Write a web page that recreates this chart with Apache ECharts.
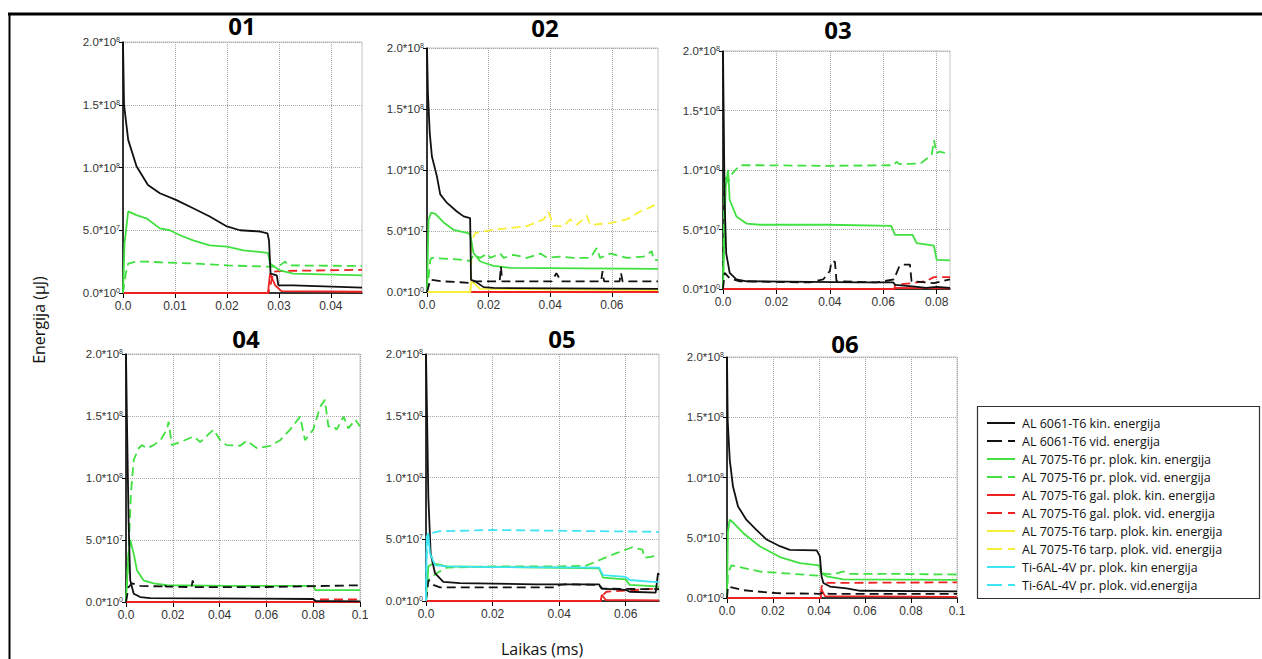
<!DOCTYPE html>
<html><head><meta charset="utf-8">
<script src="https://cdn.jsdelivr.net/npm/echarts@6/dist/echarts.min.js"></script>
<style>html,body{margin:0;padding:0;background:#fff}#c{width:1262px;height:659px}</style>
</head><body><div id="c"></div>
<script>
// ---------- names / ticks ----------
const legendNames = ['AL 6061-T6 kin. energija','AL 6061-T6 vid. energija','AL 7075-T6 pr. plok. kin. energija','AL 7075-T6 pr. plok. vid. energija','AL 7075-T6 gal. plok. kin. energija','AL 7075-T6 gal. plok. vid. energija','AL 7075-T6 tarp. plok. kin. energija','AL 7075-T6 tarp. plok. vid. energija','Ti-6AL-4V pr. plok. kin energija','Ti-6AL-4V pr. plok. vid.energija'];
const panelTitles = ['01','02','03','04','05','06'];
const yTickValues = [0, 5e7, 1e8, 1.5e8, 2e8];
const yTickMantissa = ['0.0','5.0','1.0','1.5','2.0'];
const yTickExponent = ['0','7','8','8','8'];
const xMax = [0.046, 0.075, 0.085, 0.1, 0.07, 0.1];
const xInterval = [0.01, 0.02, 0.02, 0.02, 0.02, 0.02];
const xTickValues = [[0,0.01,0.02,0.03,0.04],[0,0.02,0.04,0.06],[0,0.02,0.04,0.06,0.08],[0,0.02,0.04,0.06,0.08,0.1],[0,0.02,0.04,0.06],[0,0.02,0.04,0.06,0.08,0.1]];
const xTickLabels = [['0.0','0.01','0.02','0.03','0.04'],['0.0','0.02','0.04','0.06'],['0.0','0.02','0.04','0.06','0.08'],['0.0','0.02','0.04','0.06','0.08','0.1'],['0.0','0.02','0.04','0.06'],['0.0','0.02','0.04','0.06','0.08','0.1']];

// ---------- data: [time ms, energy µJ] ----------
// Panel 01
const p1_kin6061 = [[0,2.0e8],[0.0002,1.5e8],[0.001,1.22e8],[0.0026,1.01e8],[0.0048,8.6e7],[0.0071,7.95e7],[0.0103,7.4e7],[0.0135,6.75e7],[0.0167,6.1e7],[0.02,5.3e7],[0.0225,5.0e7],[0.0264,4.9e7],[0.0278,4.75e7],[0.0281,4.2e7],[0.0284,1.55e7],[0.0296,1.4e7],[0.0299,6e6],[0.0328,6e6],[0.046,4.3e6]];
const p1_kinPr = [[0,0],[0.0003,4.0e7],[0.001,6.5e7],[0.0026,6.2e7],[0.0045,5.95e7],[0.0071,5.15e7],[0.009,5.0e7],[0.011,4.6e7],[0.0135,4.2e7],[0.0167,3.8e7],[0.02,3.7e7],[0.0232,3.4e7],[0.0279,3.2e7],[0.0283,2.35e7],[0.0302,1.8e7],[0.0328,1.55e7],[0.046,1.4e7]];
const p1_vidPr = [[0,0],[0.0005,1.5e7],[0.001,2.35e7],[0.0026,2.5e7],[0.0045,2.5e7],[0.0071,2.45e7],[0.0135,2.35e7],[0.02,2.2e7],[0.0277,2.1e7],[0.029,2.1e7],[0.0302,2.2e7],[0.0312,2.5e7],[0.0318,2.2e7],[0.046,2.15e7]];
const p1_kinGal = [[0,0],[0.0279,0],[0.0283,1.55e7],[0.0293,6e6],[0.0305,1.5e6],[0.046,1.0e6]];
const p1_vidGal = [[0,0],[0.028,0],[0.029,1.7e7],[0.0302,1.75e7],[0.046,1.85e7]];
// Panel 02
const p2_kin6061 = [[0,2.0e8],[0.0003,1.63e8],[0.0009,1.3e8],[0.0016,1.11e8],[0.0032,9.5e7],[0.0043,8.0e7],[0.0065,7.3e7],[0.0097,6.6e7],[0.0119,6.2e7],[0.014,6.05e7],[0.0143,1.0e7],[0.0157,8.7e6],[0.0184,4e6],[0.0216,3.3e6],[0.075,2.5e6]];
const p2_vid6061 = [[0,0],[0.0011,1.0e7],[0.0054,8.7e6],[0.0108,8.0e6],[0.014,7.4e6],[0.0146,8.7e6],[0.0236,8.7e6],[0.024,2.1e7],[0.0244,8.7e6],[0.0405,8.7e6],[0.042,1.55e7],[0.0435,8.7e6],[0.0565,8.7e6],[0.057,1.7e7],[0.0575,8.7e6],[0.0625,8.7e6],[0.063,1.55e7],[0.0635,8.7e6],[0.075,8.7e6]];
const p2_kinPr = [[0,0],[0.0005,5.9e7],[0.0013,6.5e7],[0.0027,6.4e7],[0.0054,5.7e7],[0.0086,5.1e7],[0.013,4.85e7],[0.014,4.75e7],[0.0151,3.2e7],[0.0173,2.5e7],[0.0216,2.15e7],[0.027,1.97e7],[0.075,1.9e7]];
const p2_vidPr = [[0,0],[0.0011,2.65e7],[0.0016,2.8e7],[0.0108,2.65e7],[0.014,2.55e7],[0.0151,3.05e7],[0.0173,2.8e7],[0.0195,3.15e7],[0.0205,2.8e7],[0.0238,3.15e7],[0.0249,2.8e7],[0.028,3.05e7],[0.0324,2.8e7],[0.0368,3.15e7],[0.039,2.8e7],[0.0432,2.9e7],[0.0476,2.8e7],[0.053,2.8e7],[0.0551,3.6e7],[0.0562,2.8e7],[0.0595,3.15e7],[0.0649,2.8e7],[0.0703,2.9e7],[0.073,3.35e7],[0.0735,2.65e7],[0.075,2.6e7]];
const p2_kinGal = [[0,0],[0.075,0]];
const p2_kinTarp = [[0,0],[0.014,0],[0.0144,9e6],[0.0157,6e6],[0.0173,2.5e6],[0.075,1.5e6]];
const p2_vidTarp = [[0,0],[0.0141,0],[0.0146,4.3e7],[0.0157,4.85e7],[0.0216,5.1e7],[0.027,5.25e7],[0.0324,5.4e7],[0.0378,5.95e7],[0.0395,6.55e7],[0.0411,5.4e7],[0.0443,5.4e7],[0.0465,5.95e7],[0.0486,5.5e7],[0.0519,6.25e7],[0.053,5.5e7],[0.0595,5.65e7],[0.0649,5.95e7],[0.0692,6.6e7],[0.0708,6.75e7],[0.075,7.25e7]];
// Panel 03
const p3_kin6061 = [[0,2.0e8],[0.0006,7.5e7],[0.0012,3.0e7],[0.0025,1.35e7],[0.005,8e6],[0.0088,6.5e6],[0.051,5.5e6],[0.0638,5.5e6],[0.0644,3.5e6],[0.071,2.2e6],[0.076,1.0e6],[0.08,1.7e6],[0.085,1.0e6]];
const p3_vid6061 = [[0,0],[0.0006,1.35e7],[0.0025,9e6],[0.0063,6.5e6],[0.0325,5.5e6],[0.0375,8e6],[0.04,1.5e7],[0.0406,2.3e7],[0.0419,2.3e7],[0.0425,6.5e6],[0.0575,5.5e6],[0.064,8e6],[0.066,1.9e7],[0.0675,2.05e7],[0.07,2.05e7],[0.0706,6.5e6],[0.079,5e6],[0.085,8e6]];
const p3_kinPr = [[0,0],[0.001,8.6e7],[0.0019,1.0e8],[0.0025,7.5e7],[0.005,6.1e7],[0.0088,5.5e7],[0.0138,5.4e7],[0.039,5.4e7],[0.063,5.3e7],[0.0644,4.55e7],[0.071,4.55e7],[0.0725,3.85e7],[0.079,3.65e7],[0.08,2.45e7],[0.085,2.4e7]];
const p3_vidPr = [[0,0],[0.0006,9.4e7],[0.0019,9.0e7],[0.0031,9.6e7],[0.0063,1.04e8],[0.0138,1.04e8],[0.039,1.035e8],[0.064,1.04e8],[0.065,1.07e8],[0.066,1.05e8],[0.074,1.055e8],[0.076,1.09e8],[0.0781,1.125e8],[0.079,1.25e8],[0.08,1.14e8],[0.081,1.155e8],[0.085,1.135e8]];
const p3_kinGal = [[0,0],[0.064,0],[0.0644,1.0e6],[0.085,5e5]];
const p3_vidGal = [[0,0],[0.0642,0],[0.0644,3.5e6],[0.071,5e6],[0.076,6.5e6],[0.079,1.0e7],[0.085,1.0e7]];
// Panel 04
const p4_kin6061 = [[0,2.0e8],[0.0004,1.47e8],[0.0011,6.6e7],[0.0018,1.75e7],[0.0033,6.7e6],[0.0061,4e6],[0.0104,3.2e6],[0.057,2.7e6],[0.08,2.4e6],[0.081,8e5],[0.1,5e5]];
const p4_vid6061 = [[0,0],[0.0011,1.2e7],[0.0026,1.5e7],[0.006,1.3e7],[0.016,1.25e7],[0.0165,1.45e7],[0.017,1.25e7],[0.028,1.2e7],[0.0285,1.75e7],[0.029,1.2e7],[0.057,1.2e7],[0.086,1.3e7],[0.1,1.35e7]];
const p4_kinPr = [[0,0],[0.0009,3.4e7],[0.0018,5.0e7],[0.0033,3.9e7],[0.0047,2.55e7],[0.0075,1.75e7],[0.0118,1.5e7],[0.0175,1.35e7],[0.043,1.3e7],[0.08,1.3e7],[0.081,9.5e6],[0.1,9.5e6]];
const p4_vidPr = [[0,0],[0.0011,3.9e7],[0.0021,8.75e7],[0.0033,1.145e8],[0.0054,1.24e8],[0.0068,1.265e8],[0.009,1.24e8],[0.0118,1.265e8],[0.0147,1.305e8],[0.0175,1.39e8],[0.0182,1.455e8],[0.0196,1.265e8],[0.0232,1.29e8],[0.0289,1.335e8],[0.0317,1.29e8],[0.0374,1.39e8],[0.0403,1.305e8],[0.043,1.265e8],[0.0488,1.26e8],[0.0516,1.3e8],[0.056,1.24e8],[0.0616,1.26e8],[0.0659,1.305e8],[0.0701,1.39e8],[0.0744,1.495e8],[0.0765,1.305e8],[0.08,1.39e8],[0.083,1.575e8],[0.085,1.63e8],[0.0865,1.415e8],[0.0886,1.42e8],[0.09,1.39e8],[0.093,1.495e8],[0.095,1.4e8],[0.098,1.47e8],[0.1,1.415e8]];
const p4_kinGal = [[0,0],[0.1,0]];
const p4_vidGal = [[0,0],[0.081,0],[0.0812,2e6],[0.1,2e6]];
// Panel 05
const p5_kin6061 = [[0,2.0e8],[0.0003,1.52e8],[0.0007,8.45e7],[0.0014,3.85e7],[0.0027,2.25e7],[0.0052,1.55e7],[0.0102,1.45e7],[0.033,1.35e7],[0.052,1.35e7],[0.0527,1.0e7],[0.06,9e6],[0.0612,7.5e6],[0.069,6.8e6],[0.0697,2.25e7],[0.07,2.1e7]];
const p5_vid6061 = [[0,0],[0.0007,1.7e7],[0.0022,1.3e7],[0.0042,1.1e7],[0.039,1.1e7],[0.04,1.3e7],[0.042,1.35e7],[0.052,1.3e7],[0.053,1.0e7],[0.07,9.5e6]];
const p5_kinPr = [[0,0],[0.0007,2.8e7],[0.0022,3.05e7],[0.0062,2.8e7],[0.052,2.65e7],[0.0532,1.9e7],[0.06,1.75e7],[0.0612,1.3e7],[0.068,1.2e7],[0.07,1.15e7]];
const p5_vidPr = [[0,0],[0.0007,1.7e7],[0.0032,2.25e7],[0.0062,2.7e7],[0.02,2.8e7],[0.04,2.8e7],[0.048,2.85e7],[0.052,3.3e7],[0.057,3.85e7],[0.062,4.35e7],[0.065,4.15e7],[0.0657,3.5e7],[0.068,3.6e7],[0.07,3.85e7]];
const p5_kinGal = [[0,0],[0.0525,0],[0.0528,5e6],[0.054,8e5],[0.07,5e5]];
const p5_vidGal = [[0,0],[0.0525,0],[0.0527,3.5e6],[0.0542,7.5e6],[0.06,8.5e6],[0.07,1.0e7]];
const p5_kinTi = [[0,0],[0.0002,5.2e7],[0.0007,5.5e7],[0.0012,3.85e7],[0.0027,2.9e7],[0.0062,2.8e7],[0.02,2.75e7],[0.052,2.7e7],[0.0532,2.1e7],[0.06,1.95e7],[0.0612,1.7e7],[0.068,1.55e7],[0.07,1.55e7]];
const p5_vidTi = [[0,0],[0.0002,3.85e7],[0.0007,5.2e7],[0.0017,5.5e7],[0.0042,5.65e7],[0.02,5.75e7],[0.07,5.6e7]];
// Panel 06
const p6_kin6061 = [[0,2.0e8],[0.0003,1.475e8],[0.0012,1.145e8],[0.0026,9.25e7],[0.0048,7.6e7],[0.0084,6.5e7],[0.0128,5.65e7],[0.0172,4.85e7],[0.023,4.3e7],[0.0273,4.0e7],[0.039,3.95e7],[0.0404,3.45e7],[0.0411,1.8e7],[0.0419,1.25e7],[0.0433,1.1e7],[0.0448,9.5e6],[0.052,8e6],[0.058,6e6],[0.1,5.5e6]];
const p6_vid6061 = [[0,0],[0.0004,9.5e6],[0.007,6.5e6],[0.0215,4e6],[0.04,3.5e6],[0.042,4.5e6],[0.0445,3.5e6],[0.1,3.5e6]];
const p6_kinPr = [[0,0],[0.0004,5.5e7],[0.0012,6.5e7],[0.003,6.2e7],[0.007,5.4e7],[0.0142,4.3e7],[0.023,3.4e7],[0.0317,2.9e7],[0.04,2.7e7],[0.0411,2.05e7],[0.0433,1.8e7],[0.0506,1.55e7],[0.1,1.5e7]];
const p6_vidPr = [[0,0],[0.0004,2.05e7],[0.0019,2.7e7],[0.007,2.5e7],[0.0142,2.2e7],[0.0288,2.0e7],[0.04,1.85e7],[0.0411,2.05e7],[0.046,1.95e7],[0.0506,2.2e7],[0.0535,2.0e7],[0.0724,2.0e7],[0.1,1.95e7]];
const p6_kinGal = [[0,0],[0.0408,0],[0.0411,7e6],[0.0426,1.5e6],[0.1,1e6]];
const p6_vidGal = [[0,0],[0.0409,0],[0.0411,9.5e6],[0.0426,1.25e7],[0.1,1.3e7]];

// which legend entry each panel curve belongs to
const panelCurves = [
  [[4,p1_kinGal],[5,p1_vidGal],[3,p1_vidPr],[2,p1_kinPr],[0,p1_kin6061]],
  [[4,p2_kinGal],[6,p2_kinTarp],[7,p2_vidTarp],[3,p2_vidPr],[2,p2_kinPr],[1,p2_vid6061],[0,p2_kin6061]],
  [[4,p3_kinGal],[5,p3_vidGal],[3,p3_vidPr],[2,p3_kinPr],[1,p3_vid6061],[0,p3_kin6061]],
  [[4,p4_kinGal],[5,p4_vidGal],[3,p4_vidPr],[2,p4_kinPr],[1,p4_vid6061],[0,p4_kin6061]],
  [[4,p5_kinGal],[5,p5_vidGal],[3,p5_vidPr],[2,p5_kinPr],[1,p5_vid6061],[0,p5_kin6061],[9,p5_vidTi],[8,p5_kinTi]],
  [[4,p6_kinGal],[5,p6_vidGal],[3,p6_vidPr],[2,p6_kinPr],[1,p6_vid6061],[0,p6_kin6061]]
];

// ---------- styling ----------
const seriesColor = ['#111111','#111111','#3fe03f','#3fe03f','#ee2222','#ee2222','#f8ef3a','#f8ef3a','#3de4f2','#3de4f2'];
const seriesDashed = [false,true,false,true,false,true,false,true,false,true];
const grids = [
  {left:123, top:42, width:239, height:251},
  {left:427, top:48, width:231, height:244},
  {left:723, top:51, width:227, height:238},
  {left:126, top:354, width:234, height:248},
  {left:426, top:354, width:233, height:247},
  {left:727, top:357, width:230, height:241}
];
const tickFont = 'Liberation Sans, Arial, sans-serif';
const textFont = '"Open Sans", "Noto Sans", sans-serif';
const titlePos = [[242,25],[545,27],[838,29],[246,338],[562,338],[845,343]];

const graphics = [
  {type:'line', shape:{x1:8, y1:14, x2:1262, y2:14}, style:{stroke:'#000', lineWidth:3}},
  {type:'line', shape:{x1:9.5, y1:14, x2:9.5, y2:659}, style:{stroke:'#000', lineWidth:2}},
  {type:'rect', shape:{x:977.5, y:406.5, width:282, height:192}, style:{fill:'none', stroke:'#333', lineWidth:1.2}},
  {type:'text', x:39, y:320, rotation:Math.PI/2, style:{text:'Energija (µJ)', font:'16px '+textFont, fill:'#111', textAlign:'center', textVerticalAlign:'middle'}},
  {type:'text', x:542, y:649, style:{text:'Laikas (ms)', font:'16px '+textFont, fill:'#111', textAlign:'center', textVerticalAlign:'middle'}}
];
panelTitles.forEach((t,i)=>graphics.push({type:'text', x:titlePos[i][0], y:titlePos[i][1],
  style:{text:t, font:'bold 24px '+textFont, fill:'#000', textAlign:'center', textVerticalAlign:'middle'}}));
legendNames.forEach((n,i)=>{
  const y = 423 + 18*i;
  graphics.push({type:'line', shape:{x1:987, y1:y, x2:1015, y2:y},
    style:{stroke:seriesColor[i], lineWidth:2, lineDash: seriesDashed[i] ? [15,6] : null}});
  graphics.push({type:'text', x:1022, y:y, style:{text:n, font:'12.5px '+textFont, fill:'#111', textAlign:'left', textVerticalAlign:'middle'}});
});

const option = {
  animation: false,
  backgroundColor: '#fff',
  grid: grids.map(g => Object.assign({show:true, borderColor:'#c4c4c4', borderWidth:1, backgroundColor:'transparent'}, g)),
  xAxis: grids.map((g,i) => ({
    type:'value', gridIndex:i, min:0, max:xMax[i], interval:xInterval[i],
    axisLine:{show:true, onZero:false, lineStyle:{color:'#000', width:1.5}},
    axisTick:{show:true, length:5, lineStyle:{color:'#000'}, customValues:xTickValues[i]},
    axisLabel:{show:true, customValues:xTickValues[i], margin:7, fontSize:12, color:'#333', fontFamily:tickFont,
      formatter:(v)=>{const k = xTickValues[i].findIndex(t=>Math.abs(t-v)<1e-9); return k<0?'':xTickLabels[i][k];}},
    splitLine:{show:true, lineStyle:{color:'#a8a8a8', type:'dotted', width:1}}
  })),
  yAxis: grids.map((g,i) => ({
    type:'value', gridIndex:i, min:0, max:2e8, interval:5e7,
    axisLine:{show:true, onZero:false, lineStyle:{color:'#000', width:1.5}},
    axisTick:{show:true, length:4, lineStyle:{color:'#000'}},
    axisLabel:{show:true, margin:3, fontSize:11.5, color:'#333', fontFamily:tickFont,
      formatter:(v)=>{const k = yTickValues.findIndex(t=>Math.abs(t-v)<1); return k<0?'':yTickMantissa[k]+'*10{s|'+yTickExponent[k]+'}';},
      rich:{s:{fontSize:7, color:'#333', fontFamily:tickFont, verticalAlign:'top', lineHeight:9, padding:[0,0,5,0]}}},
    splitLine:{show:true, lineStyle:{color:'#a8a8a8', type:'dotted', width:1}}
  })),
  graphic: graphics,
  series: []
};

panelCurves.forEach((curves, p) => {
  curves.forEach(([idx, data]) => {
    option.series.push({
      type:'line', name: legendNames[idx], xAxisIndex:p, yAxisIndex:p, data: data,
      symbol:'none', showSymbol:false, clip:true,
      lineStyle:{color: seriesColor[idx], width:1.8, type: seriesDashed[idx] ? [9,5] : 'solid'},
      itemStyle:{color: seriesColor[idx]}
    });
  });
});
const chart = echarts.init(document.getElementById('c'), null, {renderer:'svg'});
chart.setOption(option);
</script>
</body></html>
